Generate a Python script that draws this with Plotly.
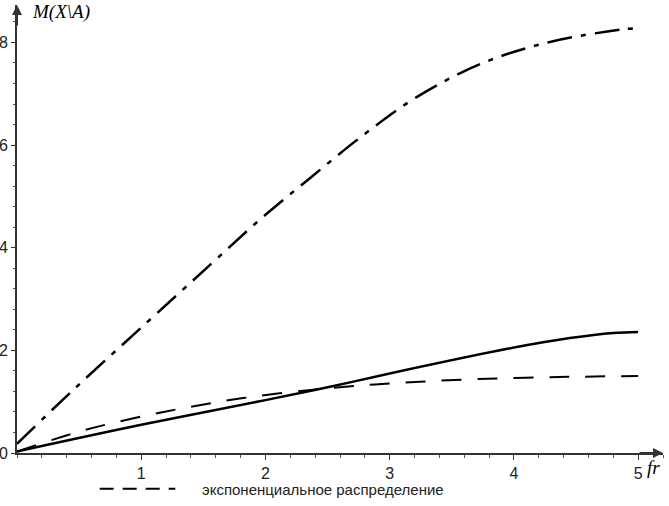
import plotly.graph_objects as go

# values
x_dashdot = [0, 0.44, 0.98, 1.57, 1.97, 2.37, 2.79, 3.22, 3.75, 4.29, 4.86, 5.0]
y_dashdot = [0.18, 1.2, 2.4, 3.7, 4.58, 5.38, 6.2, 6.94, 7.6, 8.01, 8.25, 8.28]

x_solid = [0, 1.0, 2.0, 2.52, 3.0, 3.99, 4.45, 4.8, 5.0]
y_solid = [0.03, 0.55, 1.03, 1.29, 1.55, 2.05, 2.24, 2.34, 2.36]

x_dash = [0, 0.55, 1.18, 1.82, 2.5, 3.1, 3.71, 4.36, 5.0]
y_dash = [0.03, 0.45, 0.8, 1.07, 1.26, 1.37, 1.44, 1.48, 1.5]

x_ticks = [1, 2, 3, 4, 5]
y_ticks = [0, 2, 4, 6, 8]
y_label = "M(X\\A)"
x_label = "fr"
legend_text = "экспоненциальное распределение"

fig = go.Figure()
fig.add_trace(go.Scatter(x=x_dashdot, y=y_dashdot, mode="lines", line_shape="spline",
                         line=dict(color="black", width=2.5, dash="25px,9px,5px,9px")))
fig.add_trace(go.Scatter(x=x_solid, y=y_solid, mode="lines", line_shape="spline",
                         line=dict(color="black", width=2.5)))
fig.add_trace(go.Scatter(x=x_dash, y=y_dash, mode="lines", line_shape="spline",
                         line=dict(color="black", width=2, dash="20px,16px")))

axis_font = dict(family="Liberation Sans, Arial", size=16, color="#222")
fig.update_xaxes(range=[0, 5.2], tickvals=x_ticks, showgrid=False, zeroline=False,
                 automargin=False,
                 showline=True, linecolor="#333", linewidth=2,
                 ticks="outside", ticklen=5, tickcolor="#333", tickfont=axis_font,
                 minor=dict(dtick=0.2, ticks="outside", ticklen=3, tickcolor="#555"))
fig.update_yaxes(range=[0, 8.73], tickvals=y_ticks, showgrid=False, zeroline=False,
                 automargin=False,
                 showline=True, linecolor="#333", linewidth=2,
                 ticks="outside", ticklen=4, tickcolor="#333", tickfont=axis_font,
                 ticklabelstandoff=0,
                 minor=dict(dtick=0.4, ticks="outside", ticklen=2, tickcolor="#555"))

# axis arrows
fig.add_annotation(x=0, y=8.73, ax=0, ay=8.3, xref="x", yref="y", axref="x", ayref="y",
                   text="", showarrow=True, arrowhead=2, arrowsize=1, arrowwidth=2,
                   arrowcolor="#333")
fig.add_annotation(x=5.2, y=0, ax=5.0, ay=0, xref="x", yref="y", axref="x", ayref="y",
                   text="", showarrow=True, arrowhead=2, arrowsize=1, arrowwidth=2,
                   arrowcolor="#333")

# axis labels
label_font = dict(family="Liberation Serif, Times New Roman", size=19, color="black")
fig.add_annotation(x=0.02, y=0.984, xref="paper", yref="paper", text="<i>" + y_label + "</i>",
                   showarrow=False, xanchor="left", yanchor="middle", font=label_font)
fig.add_annotation(x=0.972, y=-0.033, xref="paper", yref="paper", text="<i>" + x_label + "</i>",
                   showarrow=False, xanchor="left", yanchor="middle", font=label_font)

# legend drawn by hand at the bottom
fig.add_shape(type="line", xref="paper", yref="paper", x0=0.128, x1=0.245, y0=-0.08, y1=-0.08,
              line=dict(color="black", width=2, dash="14px,9px"))
fig.add_annotation(x=0.283, y=-0.082, xref="paper", yref="paper", text=legend_text,
                   showarrow=False, xanchor="left", yanchor="middle",
                   font=dict(family="Liberation Sans, Arial", size=15, color="#222"))

fig.update_layout(width=669, height=506, showlegend=False,
                  margin=dict(l=17, r=6, t=5, b=53),
                  paper_bgcolor="white", plot_bgcolor="white")

# the page body has a default margin; drop it so the figure sits at the window corner
fig.write_html("out.html", config={"displayModeBar": False},
               post_script="document.body.style.margin='0px';")
